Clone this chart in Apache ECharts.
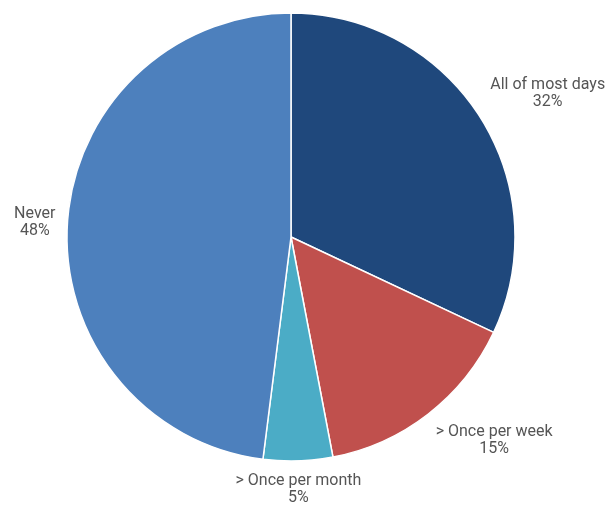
<!DOCTYPE html>
<html>
<head>
<meta charset="utf-8">
<script src="https://cdn.jsdelivr.net/npm/echarts@6/dist/echarts.min.js"></script>
<style>
  html, body { margin: 0; padding: 0; background: #ffffff; }
  #chart { width: 610px; height: 506px; }
</style>
</head>
<body>
<div id="chart"></div>
<script>
// Survey answer shares (percent)
const categories = ['All of most days', '> Once per week', '> Once per month', 'Never'];
const shares = [32, 15, 5, 48];
const colors = ['#1f487c', '#c0504d', '#4bacc6', '#4d80bd'];

const CX = 291, CY = 237, R = 224, GAP = 12;
const total = shares.reduce((a, b) => a + b, 0);

const chart = echarts.init(document.getElementById('chart'), null, { renderer: 'canvas' });

chart.setOption({
  animation: false,
  backgroundColor: '#ffffff',
  series: [{
    type: 'pie',
    center: [CX, CY],
    radius: [0, R],
    startAngle: 90,
    clockwise: true,
    avoidLabelOverlap: false,
    data: categories.map((name, i) => ({
      name, value: shares[i], itemStyle: { color: colors[i] }
    })),
    itemStyle: { borderColor: '#ffffff', borderWidth: 1.5 },
    label: {
      show: true,
      position: 'outside',
      formatter: '{b}\n{c}%',
      color: '#555555',
      fontFamily: 'Roboto',
      fontSize: 16,
      lineHeight: 17,
      align: 'center',
      overflow: 'none',
      edgeDistance: 0
    },
    labelLine: { show: false },
    // Anchor each label just outside the rim on the slice's middle direction;
    // the label box hangs off that point on the side facing away from the pie.
    labelLayout: function (params) {
      const idx = params.dataIndex;
      let before = 0;
      for (let k = 0; k < idx; k++) before += shares[k];
      const frac = (before + shares[idx] / 2) / total;
      const ang = frac * 2 * Math.PI; // clockwise from top
      const dx = Math.sin(ang), dy = -Math.cos(ang);
      const w = params.labelRect.width, h = params.labelRect.height;
      const px = CX + dx * (R + GAP), py = CY + dy * (R + GAP);
      const ox = dx > 0.3 ? w / 2 : (dx < -0.3 ? -w / 2 : 0);
      const oy = dy > 0.3 ? h / 2 : (dy < -0.3 ? -h / 2 : 0);
      return {
        x: px + ox,
        y: py + oy,
        align: 'center',
        verticalAlign: 'middle',
        hideOverlap: false
      };
    }
  }]
});
</script>
</body>
</html>
